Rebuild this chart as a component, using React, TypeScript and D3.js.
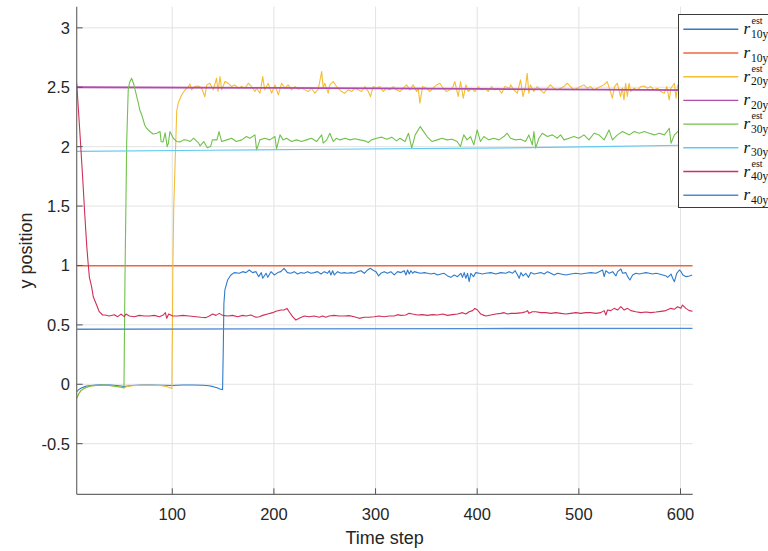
import React from 'react';
import * as d3 from 'd3';

type P = [number, number];

const xTicks = [100, 200, 300, 400, 500, 600];
const yTicks = [-0.5, 0, 0.5, 1, 1.5, 2, 2.5, 3];
const yTickLabels = ['-0.5', '0', '0.5', '1', '1.5', '2', '2.5', '3'];
const xDomain = [6, 612];
const yDomain = [-0.926, 3.178];

const r10yEst: P[] = [[6,-0.062],[8,-0.045],[10,-0.033],[13,-0.022],[16,-0.015],[20,-0.01],[25,-0.007],[30,-0.005],[40,-0.006],[50,-0.015],[52.5,-0.02],[60,-0.01],[70,-0.006],[80,-0.006],[90,-0.008],[100,-0.01],[110,-0.006],[120,-0.006],[130,-0.008],[136,-0.012],[140.3,-0.02],[144,-0.03],[146.9,-0.04],[149.5,-0.045],[150.2,0.3],[150.8,0.68],[151.8,0.794],[154.5,0.878],[157.7,0.92],[161,0.94],[166,0.934],[169.2,0.948],[172.5,0.94],[175.8,0.962],[179,0.94],[182.4,0.948],[185,0.906],[187.6,0.94],[189,0.892],[192.3,0.934],[194,0.9],[197.1,0.948],[200.4,0.92],[203.8,0.94],[206.8,0.948],[210,0.976],[213.3,0.94],[216.7,0.934],[220,0.948],[223.3,0.928],[226.6,0.94],[229.8,0.934],[233.2,0.948],[236.4,0.934],[239.7,0.94],[243,0.948],[246.3,0.928],[249.5,0.948],[252.8,0.934],[254.5,0.956],[256.1,0.92],[257.8,0.956],[259.4,0.92],[262.7,0.948],[266,0.934],[269.2,0.94],[272.5,0.934],[275.8,0.94],[279.1,0.934],[282.4,0.948],[285.6,0.956],[289,0.934],[292.2,0.962],[294.8,0.976],[297.2,0.962],[300.4,0.948],[303,0.912],[305.2,0.934],[308.5,0.948],[311.8,0.934],[315,0.948],[318.4,0.92],[321.7,0.948],[325,0.94],[328.2,0.956],[329.9,0.92],[331.5,0.962],[333.2,0.928],[334.8,0.956],[336.5,0.934],[338.1,0.948],[341.4,0.94],[344.6,0.934],[348,0.94],[351.2,0.934],[354.5,0.928],[357.7,0.934],[361,0.92],[364.3,0.928],[367.5,0.934],[370.8,0.912],[374,0.9],[377.4,0.92],[380.6,0.906],[383.9,0.934],[385.5,0.9],[387.2,0.94],[388.8,0.892],[390.5,0.934],[392.1,0.864],[393.7,0.934],[396.4,0.906],[398.6,0.94],[401.9,0.934],[405.2,0.928],[408.5,0.934],[413.4,0.94],[418.3,0.928],[423.2,0.94],[428.2,0.934],[431.4,0.948],[434.8,0.934],[437.3,0.956],[439.7,0.92],[441.3,0.892],[443,0.94],[445.2,0.912],[447.8,0.934],[450.5,0.9],[452.7,0.94],[456,0.928],[459.4,0.934],[462.6,0.94],[465.9,0.928],[469.2,0.948],[472.4,0.934],[475.7,0.92],[479,0.934],[482.3,0.928],[487.2,0.92],[492.1,0.928],[497,0.934],[502,0.928],[506.9,0.934],[511.8,0.94],[516.7,0.934],[520,0.948],[523.3,0.962],[524.9,0.906],[526.6,0.956],[529.9,0.934],[533.2,0.948],[536.5,0.912],[538.1,0.948],[541.4,0.97],[543,0.934],[546.3,0.94],[548,0.906],[550.2,0.878],[552.9,0.92],[556.1,0.934],[559.4,0.928],[562.8,0.934],[566,0.94],[569.3,0.934],[572.6,0.928],[575.9,0.934],[579.2,0.928],[582.5,0.92],[585.8,0.912],[587.4,0.9],[590.7,0.928],[592.3,0.892],[594,0.864],[596.3,0.934],[598.9,0.962],[600.6,0.948],[602.3,0.92],[605.5,0.906],[608.8,0.912],[611.5,0.92]];

const r10y: P[] = [[6,0.998],[300,0.998],[612,0.998]];

const r20yEst: P[] = [[6,-0.118],[8,-0.08],[10,-0.055],[13,-0.035],[16,-0.025],[20,-0.015],[25,-0.01],[30,-0.008],[35,-0.008],[40,-0.012],[45,-0.018],[50,-0.025],[52.5,-0.03],[55,-0.02],[60,-0.012],[70,-0.008],[80,-0.008],[90,-0.012],[95,-0.02],[99.6,-0.035],[100.2,0.5],[100.6,1.0],[101.5,1.5],[102.7,1.83],[104.4,2.3],[106,2.37],[109.2,2.435],[112.5,2.477],[115.8,2.505],[117.4,2.528],[119,2.478],[122.3,2.506],[125.6,2.511],[129,2.492],[132,2.42],[134,2.52],[137,2.534],[140.3,2.478],[143.6,2.576],[145,2.464],[147,2.59],[148.6,2.478],[151.9,2.548],[155,2.534],[158.4,2.506],[161.6,2.52],[165,2.492],[168.2,2.506],[171.5,2.492],[174.8,2.534],[178,2.506],[181.3,2.464],[183,2.492],[186.3,2.45],[189,2.59],[191,2.478],[194.4,2.534],[197.7,2.45],[201,2.52],[204.3,2.436],[207.6,2.534],[210.8,2.492],[214,2.52],[217.4,2.478],[220.6,2.506],[224,2.483],[227.2,2.492],[230.5,2.478],[233.8,2.464],[237,2.492],[240.3,2.45],[243.6,2.483],[247,2.632],[248.5,2.492],[250,2.534],[253.4,2.45],[255,2.52],[258.4,2.548],[261.6,2.506],[266.5,2.464],[269.8,2.45],[273,2.478],[276.5,2.464],[279.7,2.492],[283,2.478],[286.2,2.464],[289.5,2.506],[292.8,2.464],[295,2.422],[297.6,2.506],[301,2.492],[304.2,2.506],[307.5,2.464],[310.8,2.492],[314,2.478],[317.4,2.506],[320.6,2.478],[324,2.464],[327.2,2.492],[330.5,2.52],[333.8,2.478],[337,2.52],[340.4,2.464],[342,2.492],[343.6,2.366],[346.3,2.506],[350.3,2.492],[353.4,2.464],[356.6,2.492],[360,2.52],[363.2,2.534],[366.5,2.492],[369.8,2.464],[373,2.478],[376.3,2.506],[378,2.548],[381.3,2.422],[383.6,2.548],[386.3,2.408],[388.9,2.52],[391.2,2.464],[394.5,2.492],[397.8,2.464],[401,2.506],[404.4,2.478],[407.6,2.492],[410.8,2.464],[414.1,2.506],[417.4,2.478],[420.6,2.492],[424,2.45],[427.2,2.506],[432,2.492],[432.8,2.52],[436,2.478],[439.4,2.45],[442.6,2.562],[445,2.422],[447.6,2.506],[449.2,2.618],[450.8,2.45],[452.4,2.52],[455.7,2.464],[459,2.506],[462.3,2.478],[465.6,2.45],[469,2.492],[472,2.52],[475.4,2.492],[478.7,2.478],[482,2.492],[485.3,2.506],[488.6,2.534],[491.8,2.506],[495.1,2.478],[498.4,2.492],[501.7,2.506],[505,2.52],[508.2,2.492],[511.5,2.506],[514.8,2.478],[518,2.492],[521.3,2.506],[524.6,2.52],[527.9,2.548],[530.5,2.478],[532.9,2.408],[535.2,2.506],[537.8,2.534],[541,2.422],[542.7,2.492],[544.4,2.394],[546,2.534],[547.7,2.422],[549.4,2.534],[551,2.464],[554.3,2.492],[557.6,2.478],[561,2.506],[564.2,2.511],[567.5,2.492],[570.8,2.506],[574,2.478],[577.4,2.492],[580.6,2.464],[584,2.45],[586.6,2.506],[588.9,2.394],[590.6,2.492],[594,2.534],[595.6,2.408],[597.3,2.52],[601,2.478],[605,2.5],[609,2.46],[612,2.49]];

const r20y: P[] = [[6,2.5],[200,2.494],[400,2.486],[612,2.476]];

const r30yEst: P[] = [[6,-0.118],[8,-0.08],[10,-0.055],[13,-0.035],[16,-0.025],[20,-0.015],[25,-0.01],[30,-0.008],[35,-0.008],[40,-0.012],[45,-0.018],[50,-0.025],[52.5,-0.03],[53.5,0.9],[55.2,2.04],[56.7,2.48],[58,2.54],[60,2.576],[62,2.53],[63.4,2.48],[66.7,2.365],[68,2.31],[70,2.267],[73,2.18],[74.8,2.155],[76.6,2.14],[78,2.127],[81.3,2.107],[84.7,2.113],[88,2.127],[89,2.043],[91,2.04],[93,2.117],[95,2.0],[96.2,2.029],[97.7,2.127],[101,2.071],[104.5,2.043],[107.6,2.04],[111,2.057],[114,2.056],[117.6,2.043],[121,2.071],[126,2.029],[127.4,2.006],[131,2.043],[134.5,1.99],[137.7,2.001],[139.5,2.057],[144,2.057],[146,2.127],[148.6,2.043],[153.6,2.057],[158.5,2.071],[163,2.043],[168.4,2.057],[173,2.085],[176.4,2.071],[181.3,2.099],[183,1.973],[186.2,2.057],[191,2.071],[196,2.057],[201,2.085],[202.6,1.98],[206,2.099],[209,2.057],[212.5,2.071],[217.4,2.043],[222.3,2.057],[227.2,2.043],[232,2.057],[237,2.071],[242,2.043],[247,2.099],[248.5,2.029],[252,2.057],[255,2.113],[258.4,2.043],[261.6,2.071],[265,2.057],[270,2.071],[275,2.057],[279.7,2.066],[284.6,2.057],[289.5,2.049],[292.8,2.035],[296,2.057],[301,2.071],[306,2.08],[311,2.063],[316,2.08],[320.6,2.049],[324,2.071],[329,2.043],[332.4,2.113],[335.6,1.987],[339,2.099],[344,2.169],[347.3,2.127],[350.7,2.085],[355.6,2.043],[360.5,2.057],[365.4,2.071],[370.3,2.057],[375.3,2.063],[380.2,2.043],[383.5,2.001],[386.8,2.099],[390,2.057],[393.4,2.085],[396.7,2.015],[400,2.141],[403.2,2.043],[406.5,2.085],[411.4,2.057],[416.3,2.071],[421.3,2.057],[426.2,2.085],[429.5,2.113],[432.8,2.071],[437.7,2.057],[442.6,2.063],[447.6,2.043],[450.8,2.099],[454.2,2.015],[455.8,2.127],[457.5,1.987],[460.7,2.071],[464,2.113],[469,2.085],[474,2.099],[478.8,2.071],[482,2.099],[485.4,2.057],[490.3,2.071],[495.2,2.085],[500,2.071],[505,2.099],[510,2.057],[515,2.113],[519.8,2.099],[524.8,2.057],[529.7,2.141],[533,2.057],[538,2.099],[543,2.127],[546.3,2.113],[549.6,2.099],[554.5,2.127],[559.4,2.113],[564.4,2.127],[569.3,2.113],[574.3,2.099],[579.2,2.113],[584.2,2.099],[589,2.155],[590.7,2.029],[594,2.099],[597.3,2.127],[602,2.09],[606,2.12],[612,2.1]];

const r30y: P[] = [[6,1.96],[136,1.97],[255,1.978],[433,1.99],[520,2.0],[600,2.012],[612,2.015]];

const r40yEst: P[] = [[6,2.534],[8,2.27],[10,2.0],[12,1.72],[14,1.42],[16,1.15],[17.4,1.004],[18.5,0.9],[20.7,0.82],[22.3,0.737],[25.6,0.667],[28.2,0.611],[31.5,0.583],[34,0.583],[38,0.575],[43,0.586],[46.3,0.569],[49.6,0.591],[52.8,0.569],[54.5,0.591],[57.8,0.575],[62.7,0.569],[67.6,0.58],[72.5,0.575],[77.5,0.575],[82.4,0.58],[87.3,0.569],[91.2,0.583],[93.2,0.603],[94.6,0.555],[96.5,0.591],[100.4,0.575],[105.3,0.575],[110.2,0.58],[116.7,0.575],[123.3,0.569],[128.2,0.564],[133.1,0.561],[136.4,0.575],[139.7,0.591],[143,0.58],[146.3,0.597],[149.6,0.58],[154.5,0.575],[159.4,0.58],[164.4,0.569],[169.2,0.58],[172.5,0.575],[177.4,0.583],[182.4,0.564],[185.6,0.569],[189,0.58],[193.8,0.591],[198.8,0.603],[202,0.614],[207,0.625],[210,0.625],[212.8,0.639],[215,0.611],[218.4,0.569],[221.6,0.541],[224.9,0.555],[229.8,0.575],[234.7,0.569],[239.6,0.575],[244.5,0.564],[247.8,0.575],[251.1,0.564],[254.3,0.575],[259.2,0.58],[264.2,0.575],[269.1,0.575],[274,0.578],[279,0.569],[283.9,0.555],[288.8,0.564],[293.7,0.564],[298.6,0.569],[303.5,0.575],[308.5,0.569],[313.4,0.575],[318.3,0.575],[321.6,0.586],[324.8,0.58],[329.8,0.583],[333,0.597],[336.3,0.591],[341.3,0.583],[346.2,0.586],[351.1,0.58],[356,0.586],[361,0.583],[366,0.591],[370.8,0.58],[375.7,0.586],[380.6,0.591],[385.6,0.603],[388.8,0.591],[392.1,0.611],[395.4,0.62],[397.7,0.639],[400.3,0.625],[403.5,0.591],[406.8,0.58],[408.5,0.575],[413.4,0.583],[418.3,0.591],[423.2,0.597],[426.5,0.603],[429.8,0.591],[433,0.597],[438,0.597],[444.5,0.603],[447.8,0.611],[449.4,0.62],[451,0.597],[454.3,0.611],[457.6,0.611],[462.5,0.603],[467.4,0.603],[472.4,0.597],[477.3,0.603],[482.2,0.597],[487.1,0.591],[492,0.597],[497,0.603],[501.9,0.597],[506.8,0.603],[511.7,0.603],[516.7,0.597],[521.6,0.603],[524.9,0.62],[526.6,0.583],[528.2,0.625],[531.5,0.62],[534.7,0.639],[538,0.625],[541.3,0.653],[544.6,0.625],[547.9,0.639],[551.2,0.62],[556.1,0.611],[561,0.603],[566,0.608],[570.9,0.603],[575.8,0.608],[580.7,0.614],[585.6,0.62],[590.5,0.639],[593.8,0.631],[597.1,0.653],[600.4,0.639],[602,0.667],[605.3,0.639],[608.6,0.62],[612,0.614]];

const r40y: P[] = [[6,0.463],[200,0.466],[400,0.469],[612,0.471]];

const seriesData = [r10yEst, r10y, r20yEst, r20y, r30yEst, r30y, r40yEst, r40y];
const seriesColors = ['#2f7bcb', '#f0663c', '#f4bd35', '#b04cad', '#70c24a', '#62caf0', '#cf2f58', '#4f8ad2'];
const seriesWidths = [1.1, 1.5, 1.1, 1.8, 1.1, 1.1, 1.1, 1.3];
const legendSubs = ['10y', '10y', '20y', '20y', '30y', '30y', '40y', '40y'];
const legendEst = [true, false, true, false, true, false, true, false];

export default function App() {
  const left = 76.7, right = 692.7, top = 6.7, bottom = 494.3;
  const x = d3.scaleLinear().domain(xDomain).range([left, right]);
  const y = d3.scaleLinear().domain(yDomain).range([bottom, top]);
  const line = d3.line<P>().x(d => x(d[0])).y(d => y(d[1]));
  const sans = "'Liberation Sans', Arial, Helvetica, sans-serif";
  const serif = "'Liberation Serif', 'Times New Roman', serif";
  const tc = '#262626';
  const legX = 678.5, legY = 14.5, legH = 193;
  const legRow0 = 29.3, legStep = 23.7;

  return (
    <svg width={768} height={551} style={{ position: 'absolute', left: 0, top: 0, background: '#fff' }}>
      <defs>
        <clipPath id="plotclip">
          <rect x={left} y={top} width={right - left} height={bottom - top} />
        </clipPath>
      </defs>
      <rect x={0} y={0} width={768} height={551} fill="#fff" />
      {xTicks.map(t => (
        <line key={'gx' + t} x1={x(t)} x2={x(t)} y1={top} y2={bottom} stroke="#e3e3e3" strokeWidth={1} />
      ))}
      {yTicks.map(t => (
        <line key={'gy' + t} x1={left} x2={right} y1={y(t)} y2={y(t)} stroke="#e3e3e3" strokeWidth={1} />
      ))}
      <g clipPath="url(#plotclip)">
        {seriesData.map((s, i) => (
          <path key={'s' + i} d={line(s) || ''} fill="none" stroke={seriesColors[i]} strokeWidth={seriesWidths[i]} strokeLinejoin="round" />
        ))}
      </g>
      <line x1={left} x2={left} y1={top} y2={bottom} stroke="#6b6b6b" strokeWidth={1.2} />
      <line x1={left} x2={right} y1={bottom} y2={bottom} stroke="#6b6b6b" strokeWidth={1.2} />
      {xTicks.map(t => (
        <g key={'xt' + t}>
          <line x1={x(t)} x2={x(t)} y1={bottom} y2={bottom - 6} stroke="#555" strokeWidth={1} />
          <text x={x(t)} y={520} textAnchor="middle" fontFamily={sans} fontSize={16.5} fill={tc}>{t}</text>
        </g>
      ))}
      {yTicks.map((t, i) => (
        <g key={'yt' + t}>
          <line x1={left} x2={left + 6} y1={y(t)} y2={y(t)} stroke="#555" strokeWidth={1} />
          <text x={70} y={y(t) + 6} textAnchor="end" fontFamily={sans} fontSize={16.5} fill={tc}>{yTickLabels[i]}</text>
        </g>
      ))}
      <text x={(left + right) / 2} y={544} textAnchor="middle" fontFamily={sans} fontSize={18} fill={tc}>Time step</text>
      <text transform={`translate(32,${(top + bottom) / 2}) rotate(-90)`} textAnchor="middle" fontFamily={sans} fontSize={18} fill={tc}>y position</text>
      <rect x={legX} y={legY} width={110} height={legH} fill="#fff" stroke="#3a3a3a" strokeWidth={1} />
      {seriesColors.map((c, i) => {
        const cy = legRow0 + i * legStep;
        return (
          <g key={'lg' + i}>
            <line x1={683.3} x2={738.3} y1={cy} y2={cy} stroke={c} strokeWidth={1.4} />
            <text x={743.5} y={cy + 5} fontFamily={serif} fontStyle="italic" fontSize={17} fill="#111">r</text>
            {legendEst[i] && (
              <text x={751.5} y={cy - 5} fontFamily={serif} fontSize={10} fill="#111">est</text>
            )}
            <text x={751} y={cy + 8.5} fontFamily={serif} fontSize={11.5} fill="#111">{legendSubs[i]}</text>
          </g>
        );
      })}
    </svg>
  );
}
